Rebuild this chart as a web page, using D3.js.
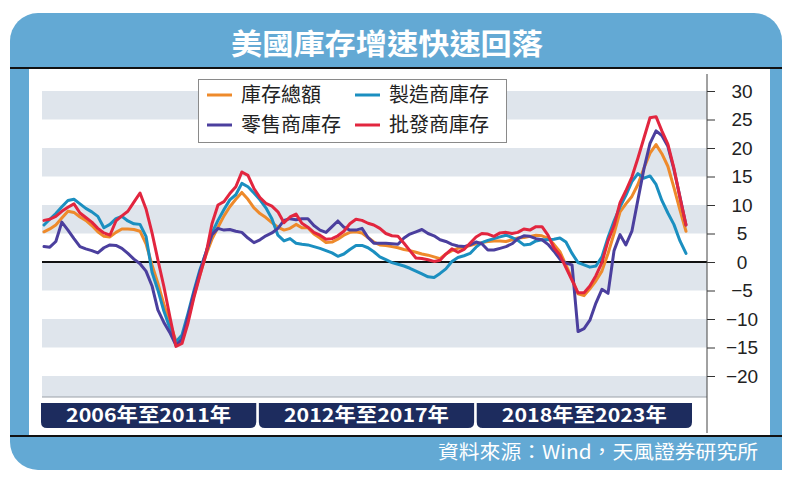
<!DOCTYPE html>
<html><head><meta charset="utf-8">
<script src="https://cdn.jsdelivr.net/npm/d3@7"></script>
<style>body{margin:0;background:#fff}</style>
</head><body><svg id="c" width="800" height="483"></svg>
<script>
const titleText = "美國庫存增速快速回落";
const sourceText = "資料來源：Wind，天風證券研究所";
const seriesNames = ["庫存總額", "製造商庫存", "零售商庫存", "批發商庫存"];
const periodLabels = ["2006年至2011年", "2012年至2017年", "2018年至2023年"];
const yTicks = [-20, -15, -10, -5, 0, 5, 10, 15, 20, 25, 30];

// YoY growth (%), one value every two months from Jan 2006
const totalInv = [5.3,5.8,6.5,7.7,8.9,8.7,7.9,7.3,6.4,5.3,
  4.5,4.4,5.2,5.8,5.8,5.7,5.4,3.2,-0.5,-3.7,
  -7.4,-10.6,-13.9,-13.4,-10.1,-6,-2.3,1.2,4,6.1,
  8.1,9.7,11,12.2,11,9.5,8.5,7.8,6.9,6.1,
  5.6,5.9,6.6,6,6,4.9,4.2,3.4,3.5,4,
  4.7,5.2,5.3,5.1,4.3,3.5,3,2.9,2.7,2.5,
  2.2,2,1.7,1.4,1.2,0.9,0.6,1.4,2,2.4,
  2.6,2.9,3.2,3.4,3.6,3.7,3.7,3.6,3.9,4.2,
  4.3,4.5,4.7,4.6,4.2,3.1,1.8,-0.5,-3,-5.6,
  -5.9,-4.7,-3.3,-1.6,1.5,5,8.8,10.2,11.5,13.6,
  16.5,19.1,20.6,19,16.8,13.1,9.1,5.4];
const manufInv = [6.5,7.5,8.5,9.7,10.8,11,10.2,9.4,8.8,8,
  6,6.6,7.6,8,7.2,6.7,6.6,4.5,-1.8,-4.9,
  -8.6,-11.6,-14,-12.8,-9,-5.1,-1.4,1.6,5.1,7.3,
  9.2,10.9,11.8,13.8,13.2,12.1,10.9,9.5,7.6,4.7,
  3.7,4.1,3.3,3.1,3,2.7,2.4,2,1.6,1,
  1.4,2.2,2.9,2.9,2.5,1.8,0.9,0.4,-0.1,-0.4,
  -0.7,-1.1,-1.6,-2.1,-2.6,-2.7,-2,-1.2,0.1,0.8,
  1.1,1.5,2.6,3.4,3.8,4.1,4.4,4.7,4.3,3.8,
  3,3.1,3.7,3.9,3.9,4,4.2,3.5,1.5,-0.1,
  -0.5,-0.9,-0.7,0.9,4.3,7.2,9.7,11.7,14.1,15.5,
  14.7,15.1,13.6,10.8,8.6,6.6,3.7,1.5];
const retailInv = [2.7,2.6,3.6,7,5.6,4.1,2.7,2.3,2,1.6,
  2.5,3,2.9,2.4,1.5,0.5,-0.3,-1.6,-4.2,-8.4,
  -10.6,-12.4,-14.6,-13.6,-9.6,-5.5,-1.8,1.6,4.8,5.9,
  5.6,5.7,5.4,5.2,4.2,3.4,3.9,4.6,5.1,5.9,
  7.3,7.6,7.4,7.6,7.6,6.4,5.6,5.2,6.2,7.2,
  6.1,5.6,5.6,5.9,4.3,3.3,3.3,3.3,3.2,3.1,
  4.2,4.9,5.3,5.7,5,4.6,3.9,3.6,3.1,2.8,
  2.7,3,3.5,3.2,2.1,2.1,2.4,2.7,3.2,4.1,
  4.6,4.5,4.1,3.9,3.1,1.9,0.5,-0.2,-0.5,-12.2,
  -11.7,-10.2,-7.2,-4.8,-5.5,2,4.8,3,5.4,10.9,
  16.4,20.8,23,22.2,20.3,16.3,11.4,6.5];
const wholesaleInv = [7.3,7.5,8,8.9,9.6,10.2,8.6,7.8,7,5.9,
  5.1,4.7,7.2,8.1,8.9,10.5,12.1,9.3,5.1,0.4,
  -4.3,-9.6,-14.8,-14.3,-10.7,-6.3,-2.4,1.3,6.7,10,
  10.6,12,13.2,15.8,15.2,12.9,11.3,10.3,9.8,8.8,
  6.9,7.9,8.4,6.8,6.1,5.2,4.7,4,4.1,4.6,
  5.4,6.7,7.5,7.3,6.8,6.5,5.9,5,4.6,4.5,
  3.3,2,0.7,0.6,0.4,0.1,0.3,1.4,2.3,1.7,
  2.2,3.3,4.4,5,4.9,4.5,5.1,5.2,5,5.2,
  5.8,5.6,6.2,6.2,4.7,2.5,1.2,-1,-3.2,-5.4,
  -5.4,-4.2,-2.4,-0.1,3.7,6.4,10.4,12.5,14.9,18.2,
  21.8,25.3,25.5,23,20.7,16.5,11.3,6.5];

const months = totalInv.map((_, i) => new Date(2006, 2 * i, 1));
const colors = ["#ee8a2b", "#1b8fc0", "#4b3f9e", "#e2263f"];
const seriesData = [totalInv, manufInv, retailInv, wholesaleInv];

const svg = d3.select("#c");
const cjk = "'Noto Sans CJK TC','Noto Sans CJK SC',sans-serif";
const blue = "#63a9d4";

// Outer panel
svg.append("rect").attr("x", 10).attr("y", 13).attr("width", 772).attr("height", 457).attr("rx", 28).attr("fill", blue);
svg.append("rect").attr("x", 752).attr("y", 440).attr("width", 30).attr("height", 30).attr("fill", blue);
svg.append("rect").attr("x", 29).attr("y", 69).attr("width", 741).attr("height", 367).attr("fill", "#fff");
svg.append("line").attr("x1", 10).attr("x2", 782).attr("y1", 68).attr("y2", 68).attr("stroke", "#111").attr("stroke-width", 2.2);
svg.append("line").attr("x1", 10).attr("x2", 782).attr("y1", 436).attr("y2", 436).attr("stroke", "#111").attr("stroke-width", 2.2);

svg.append("text").attr("x", 387).attr("y", 55).attr("text-anchor", "middle")
  .attr("font-family", cjk).attr("font-weight", 700).attr("font-size", 29)
  .attr("textLength", 312).attr("lengthAdjust", "spacingAndGlyphs")
  .attr("fill", "#fff").text(titleText);

// Scales
const plotL = 42, plotR = 707, plotT = 74, plotB = 397;
const x = d3.scaleTime().domain([months[0], months[months.length - 1]]).range([44, 686]);
const y = d3.scaleLinear().domain([-20, 30]).range([376, 91]);

// Bands
const bandStarts = [-25, -15, -5, 5, 15, 25];
svg.append("g").selectAll("rect").data(bandStarts).join("rect")
  .attr("x", plotL).attr("width", plotR - plotL)
  .attr("y", d => Math.max(plotT, y(d + 5)))
  .attr("height", d => Math.min(plotB, y(d)) - Math.max(plotT, y(d + 5)))
  .attr("fill", "#dfe5ec");
svg.append("line").attr("x1", plotL).attr("x2", plotR).attr("y1", plotB).attr("y2", plotB).attr("stroke", "#9aa0a8").attr("stroke-width", 1);
svg.append("line").attr("x1", plotL).attr("x2", plotR).attr("y1", y(0)).attr("y2", y(0)).attr("stroke", "#111").attr("stroke-width", 2);

// Lines
const line = d3.line().x((d, i) => x(months[i])).y(d => y(d));
svg.append("g").selectAll("path").data(seriesData).join("path")
  .attr("d", d => line(d)).attr("fill", "none")
  .attr("stroke", (d, i) => colors[i]).attr("stroke-width", 3)
  .attr("stroke-linejoin", "round").attr("stroke-linecap", "round");

// Right axis
const axis = svg.append("g").attr("transform", `translate(${plotR},0)`)
  .call(d3.axisRight(y).tickValues(yTicks).tickSize(8).tickPadding(0)
    .tickFormat(d => d < 0 ? "\u2212" + Math.abs(d) : d));
axis.select(".domain").remove();
axis.selectAll(".tick line").attr("stroke", "#333");
axis.selectAll(".tick text").attr("x", 35).attr("text-anchor", "middle")
  .attr("font-family", "'Liberation Sans',Arial,sans-serif").attr("font-size", 19).attr("fill", "#222");
svg.append("line").attr("x1", plotR).attr("x2", plotR).attr("y1", plotT).attr("y2", 433).attr("stroke", "#444").attr("stroke-width", 1);

// Period bars
const band = d3.scaleBand().domain(periodLabels).range([41, 692]).paddingInner(0.012);
const pg = svg.append("g").selectAll("g").data(periodLabels).join("g");
pg.append("path").attr("fill", "#1d2c5e").attr("d", d => {
  const x0 = band(d), w = band.bandwidth(), t = 403, h = 25, r = 6;
  return `M${x0},${t}H${x0 + w}V${t + h - r}Q${x0 + w},${t + h} ${x0 + w - r},${t + h}H${x0 + r}Q${x0},${t + h} ${x0},${t + h - r}Z`;
});
pg.append("text").attr("x", d => band(d) + band.bandwidth() / 2).attr("y", 422)
  .attr("text-anchor", "middle").attr("font-family", cjk).attr("font-weight", 700)
  .attr("font-size", 19).attr("textLength", 165).attr("lengthAdjust", "spacingAndGlyphs")
  .attr("fill", "#fff").text(d => d);

// Legend
svg.append("rect").attr("x", 198.5).attr("y", 79.5).attr("width", 308).attr("height", 63)
  .attr("fill", "#fff").attr("stroke", "#8a8a8a").attr("stroke-width", 1);
const legPos = [[207, 95], [355, 95], [207, 125], [355, 125]];
const lg = svg.append("g").selectAll("g").data(seriesNames).join("g")
  .attr("transform", (d, i) => `translate(${legPos[i][0]},${legPos[i][1]})`);
lg.append("line").attr("x1", 0).attr("x2", 25).attr("stroke", (d, i) => colors[i]).attr("stroke-width", 3);
lg.append("text").attr("x", 34).attr("y", 7).attr("font-family", cjk).attr("font-size", 20)
  .attr("fill", "#222").text(d => d);

// Source
svg.append("text").attr("x", 758).attr("y", 459).attr("text-anchor", "end")
  .attr("font-family", cjk).attr("font-size", 19).attr("textLength", 320).attr("lengthAdjust", "spacingAndGlyphs")
  .attr("fill", "#fff").text(sourceText);
</script></body></html>
